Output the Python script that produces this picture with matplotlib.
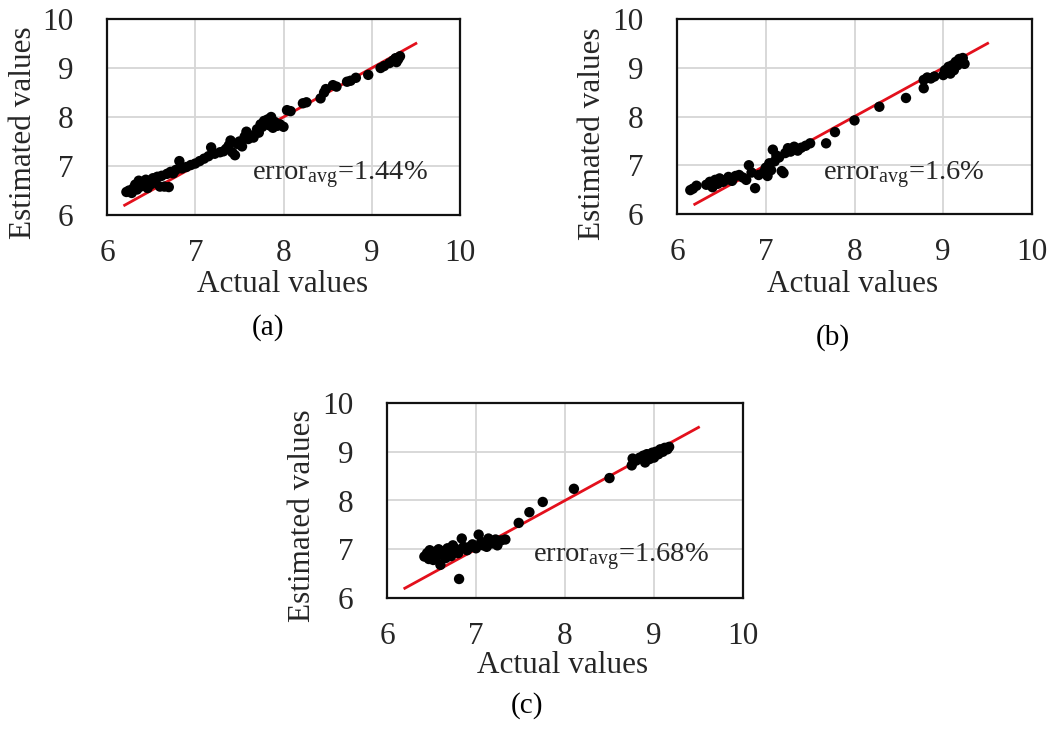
import matplotlib
matplotlib.use("Agg")
import matplotlib.pyplot as plt

plt.rcParams['font.family'] = ['Liberation Serif', 'DejaVu Serif']
plt.rcParams['mathtext.fontset'] = 'custom'
plt.rcParams['mathtext.rm'] = 'Liberation Serif'
plt.rcParams['mathtext.it'] = 'Liberation Serif:italic'

# ---------------- data ----------------
a_actual = [6.22, 6.25, 6.28, 6.30, 6.32, 6.34, 6.36, 6.38, 6.40, 6.42, 6.44, 6.46, 6.48, 6.50,
            6.52, 6.55, 6.57, 6.60, 6.62, 6.65, 6.68, 6.70, 6.72, 6.75, 6.78, 6.82, 6.85, 6.90,
            6.95, 7.00, 7.05, 7.10, 7.15, 7.18, 7.22, 7.28, 7.32, 7.35, 7.38, 7.40, 7.42, 7.45,
            7.48, 7.50, 7.53, 7.56, 7.58, 7.60, 7.63, 7.66, 7.70, 7.72, 7.74, 7.76, 7.78, 7.80,
            7.82, 7.84, 7.86, 7.88, 7.90, 7.93, 7.96, 8.00, 8.04, 8.08, 8.22, 8.26, 8.42, 8.46,
            8.48, 8.56, 8.60, 8.72, 8.76, 8.82, 8.96, 9.10, 9.14, 9.20, 9.24, 9.27, 9.30, 9.32, 9.28]
a_est = [6.47, 6.50, 6.45, 6.55, 6.62, 6.52, 6.70, 6.58, 6.66, 6.60, 6.72, 6.55, 6.68, 6.63,
         6.75, 6.70, 6.78, 6.58, 6.80, 6.58, 6.84, 6.57, 6.88, 6.85, 6.92, 7.10, 6.95, 6.98,
         7.02, 7.05, 7.10, 7.15, 7.20, 7.38, 7.25, 7.28, 7.30, 7.35, 7.42, 7.52, 7.28, 7.22,
         7.45, 7.50, 7.40, 7.60, 7.70, 7.55, 7.62, 7.58, 7.75, 7.68, 7.85, 7.80, 7.92, 7.88,
         7.95, 7.83, 8.00, 7.78, 7.90, 7.82, 7.85, 7.80, 8.14, 8.12, 8.28, 8.30, 8.38, 8.50,
         8.57, 8.65, 8.62, 8.72, 8.74, 8.80, 8.86, 9.00, 9.04, 9.10, 9.15, 9.20, 9.18, 9.24, 9.12]

b_actual = [6.15, 6.18, 6.22, 6.33, 6.37, 6.40, 6.43, 6.46, 6.48, 6.52, 6.55, 6.58, 6.62, 6.66,
            6.70, 6.74, 6.78, 6.81, 6.84, 6.88, 6.92, 6.98, 7.00, 7.02, 7.04, 7.06, 7.08, 7.10,
            7.12, 7.15, 7.18, 7.20, 7.22, 7.25, 7.28, 7.32, 7.36, 7.40, 7.45, 7.50, 7.68, 7.78,
            8.00, 8.28, 8.58, 8.78, 8.78, 8.82, 8.86, 8.90, 9.00, 9.02, 9.05, 9.06, 9.08, 9.10,
            9.12, 9.14, 9.16, 9.18, 9.20, 9.22, 9.24]
b_est = [6.49, 6.52, 6.58, 6.60, 6.66, 6.55, 6.70, 6.62, 6.73, 6.66, 6.70, 6.76, 6.68, 6.78,
         6.80, 6.75, 6.70, 7.00, 6.85, 6.53, 6.80, 6.86, 6.95, 6.78, 7.04, 6.90, 7.32, 7.08,
         7.20, 7.16, 6.88, 6.84, 7.25, 7.35, 7.28, 7.38, 7.30, 7.36, 7.40, 7.45, 7.45, 7.68,
         7.92, 8.20, 8.38, 8.58, 8.75, 8.80, 8.78, 8.82, 8.85, 8.95, 8.90, 9.02, 8.88, 9.05,
         8.95, 9.12, 9.05, 9.18, 9.10, 9.20, 9.08]

c_actual = [6.42, 6.45, 6.47, 6.48, 6.50, 6.52, 6.54, 6.56, 6.58, 6.60, 6.62, 6.64, 6.66, 6.68,
            6.70, 6.72, 6.74, 6.76, 6.78, 6.80, 6.81, 6.84, 6.86, 6.90, 6.93, 6.96, 7.00, 7.03,
            7.06, 7.08, 7.12, 7.14, 7.18, 7.22, 7.24, 7.28, 7.33, 7.48, 7.60, 7.75, 8.10, 8.50,
            8.75, 8.76, 8.80, 8.84, 8.88, 8.90, 8.92, 8.95, 8.98, 9.00, 9.02, 9.05, 9.07, 9.10,
            9.12, 9.15, 9.17]
c_est = [6.85, 6.92, 6.80, 6.98, 6.88, 6.78, 6.95, 6.85, 7.00, 6.68, 6.90, 6.96, 6.82, 7.02,
         6.92, 6.86, 7.08, 6.95, 7.00, 6.92, 6.39, 7.22, 7.05, 6.98, 7.05, 7.10, 7.02, 7.30,
         7.15, 7.08, 7.05, 7.22, 7.12, 7.20, 7.08, 7.18, 7.20, 7.54, 7.76, 7.97, 8.24, 8.46,
         8.72, 8.86, 8.82, 8.88, 8.92, 8.78, 8.95, 8.85, 8.98, 8.88, 9.00, 8.95, 9.05, 9.00,
         9.08, 9.05, 9.10]

ideal_line = [6.2, 9.5]
ticks = [6, 7, 8, 9, 10]
tick_labels = ["6", "7", "8", "9", "10"]
errors = ["1.44%", "1.6%", "1.68%"]
panel_names = ["(a)", "(b)", "(c)"]

# ---------------- layout ----------------
W, H = 1051, 730
fig = plt.figure(figsize=(W / 100, H / 100), dpi=100)

def px(x, y):
    return x / W, 1 - y / H

# axes boxes in pixels: left, top, right, bottom
boxes = [(107, 19, 460, 215), (677, 19, 1032, 214), (387, 403, 743, 598)]
ylabel_pos = [(24, 133), (593, 134), (303, 516)]
xlabel_pos = [(283, 292), (853, 292), (563, 673)]
panel_pos = [(268, 328), (833, 338), (527, 706)]

datasets = [(a_actual, a_est), (b_actual, b_est), (c_actual, c_est)]
text_y = [6.71, 6.69, 6.74]

txt_color = '#262626'
for i, ((l, t, r, b), (xa, ye)) in enumerate(zip(boxes, datasets)):
    ax = fig.add_axes([l / W, 1 - b / H, (r - l) / W, (b - t) / H])
    ax.set_xlim(6, 10)
    ax.set_ylim(6, 10)
    ax.set_xticks(ticks)
    ax.set_xticklabels(tick_labels)
    ax.set_yticks(ticks)
    ax.set_yticklabels(tick_labels)
    ax.grid(True, color='#d6d6d6', linewidth=1.3)
    ax.set_axisbelow(True)
    for s in ax.spines.values():
        s.set_linewidth(1.6)
        s.set_color('#111111')
    ax.tick_params(axis='both', length=0, labelsize=22.5, labelcolor=txt_color)
    ax.tick_params(axis='x', pad=17)
    ax.tick_params(axis='y', pad=24)
    for lab in ax.get_xticklabels() + ax.get_yticklabels():
        lab.set_clip_on(False)
    ax.plot(ideal_line, ideal_line, color='#e3101c', linewidth=2.0, zorder=2)
    ax.scatter(xa, ye, s=56, color='black', edgecolors='none', zorder=3, clip_on=False)
    ax.text(7.64, text_y[i], r'error$_{\mathrm{avg}}$=' + errors[i], fontsize=20.5,
            color=txt_color, ha='left', va='baseline', zorder=4)
    fx, fy = px(*ylabel_pos[i])
    fig.text(fx, fy, "Estimated values", rotation=90, ha='center', va='center',
             fontsize=22.5, color=txt_color)
    fx, fy = px(*xlabel_pos[i])
    fig.text(fx, fy, "Actual values", ha='center', va='baseline', fontsize=22.5, color=txt_color)
    fx, fy = px(*panel_pos[i])
    fig.text(fx, fy, panel_names[i], ha='center', va='center', fontsize=21, color='black')

fig.savefig("out.png", dpi=100)
